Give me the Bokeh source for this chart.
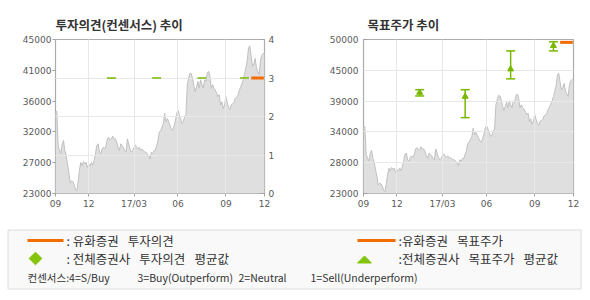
from math import pi
from bokeh.plotting import figure
from bokeh.models import Range1d, LinearAxis, FixedTicker
from bokeh.layouts import column, row
from bokeh.embed import file_html
from bokeh.resources import INLINE
from bokeh.core.properties import value

# ---------------- data ----------------
price = [
    34650, 34750, 29850, 29200, 28700, 30000, 30600, 29150, 28500, 27200,
    26000, 24500, 24800, 24700, 24300, 23600, 23350, 24700, 26300, 27450,
    26950, 27550, 27200, 27450, 26700, 27200, 26950, 27450, 27050, 27700,
    28650, 29850, 30100, 28900, 28650, 29350, 29600, 29350, 29850, 30800,
    31050, 30600, 30800, 31200, 30800, 30800, 30350, 29600, 29150, 30100,
    29850, 29600, 29150,
    28900, 30800, 30100, 29350, 28900, 29150, 29600, 29950, 29600, 29350,
    29600, 29150, 29350, 29150, 28900, 28900, 28650, 28400, 27900, 28900,
    28650, 29150, 29150, 29850, 30600, 31800, 32000, 32500, 33000, 34450,
    33250, 33700, 33250, 32750, 32250, 32000, 32600, 33350, 34450, 34900,
    34300, 33700, 33000, 33250, 33950, 34300, 38550, 39500, 40200, 40100,
    39400, 38300,
    37550, 38300, 39000, 38050, 39250, 38550, 38050, 39250, 39000, 40200,
    40450, 39750, 38050, 38550, 38050, 37800, 37350, 36850, 37100, 35650,
    36100, 35150, 35650, 36850, 36000, 35300, 35000, 35650, 35800, 36000,
    36600, 36750, 37000, 37700, 38200, 38650, 39250, 40000, 40950, 41900,
    43800, 44100, 42500, 41200, 41500, 42300, 40950, 40450, 40000, 42100,
    42750, 43000, 43100,
]
idx = list(range(len(price)))

x_ticks = [0, 25, 59, 92, 128, 157]
x_labels = ["09", "12", "17/03", "06", "09", "12"]

op_y_ticks = [23000, 27400, 31800, 36200, 40600, 45000]
op_y_labels = ["23000", "27000", "32000", "36000", "41000", "45000"]
opinion_ticks = [0, 1, 2, 3, 4]

tp_y_ticks = [23000, 28400, 33800, 39200, 44600, 50000]
tp_y_labels = ["23000", "28000", "34000", "39000", "45000", "50000"]

cons_idx = [42, 76, 110, 142]
cons_opinion = [3, 3, 3, 3]
tp_high = [41200, 41200, 48000, 49600]
tp_low = [40100, 36300, 43100, 48000]
tp_avg = [40700, 40000, 44800, 48900]

our_idx = [147, 156.5]
our_opinion = [3, 3]
our_target = [49500, 49500]

titles = ["투자의견(컨센서스) 추이", "목표주가 추이"]
SP = "\u2002 "
legend_labels = [": 유화증권" + SP + "투자의견",
                 ": 전체증권사" + SP + "투자의견" + SP + "평균값",
                 ":유화증권" + SP + "목표주가",
                 ":전체증권사" + SP + "목표주가" + SP + "평균값"]
note_parts = ["컨센서스:4=S/Buy", "3=Buy(Outperform)", "2=Neutral", "1=Sell(Underperform)"]

# ---------------- style ----------------
ORANGE = "#f26d00"
GREEN = "#78b800"
AREA = "#dfdfdf"
AREA_LINE = "#c0c0c0"
GRID = "#e8e8e8"
LABEL = "#5a5a5a"
KFONT = "Noto Sans CJK KR"
NFONT = "DejaVu Sans"


def style_axis(ax, tin, tout, standoff):
    ax.axis_line_color = None
    ax.major_tick_line_color = "#a0a0a0"
    ax.major_tick_in = tin
    ax.major_tick_out = tout
    ax.minor_tick_line_color = None
    ax.major_label_text_font = NFONT
    ax.major_label_text_font_size = "9px"
    ax.major_label_text_color = LABEL
    ax.major_label_standoff = standoff


def make_chart(width, left, right, y0, y1, title, title_offset):
    p = figure(width=width, height=215, x_range=Range1d(0, 157), y_range=Range1d(y0, y1),
               output_backend="svg", toolbar_location=None,
               min_border_left=left, min_border_right=right,
               min_border_top=39, min_border_bottom=22,
               background_fill_color="white", border_fill_color="white",
               outline_line_color="#acacac", outline_line_width=1.2,
               title=title)
    p.title.align = "left"
    p.title.text_font = KFONT
    p.title.text_font_size = "12.5px"
    p.title.text_font_style = "bold"
    p.title.text_color = "#333333"
    p.title.standoff = 12
    p.title.offset = title_offset
    p.xaxis.ticker = FixedTicker(ticks=x_ticks)
    p.xaxis.major_label_overrides = {t: l for t, l in zip(x_ticks, x_labels)}
    style_axis(p.xaxis[0], 0, 3, 2)
    p.grid.grid_line_color = GRID
    p.grid.level = "guide"
    p.varea(x=idx, y1=[y0] * len(idx), y2=price, fill_color=AREA)
    p.line(x=idx, y=price, line_color=AREA_LINE, line_width=1)
    return p


# ---------- left chart: 투자의견 ----------
p1 = make_chart(295, 55, 31, 23000, 45000, titles[0], 0)
p1.yaxis.ticker = FixedTicker(ticks=op_y_ticks)
p1.yaxis.major_label_overrides = {t: l for t, l in zip(op_y_ticks, op_y_labels)}
style_axis(p1.yaxis[0], 0, 3, 1)
p1.extra_y_ranges = {"op": Range1d(0, 4)}
rax = LinearAxis(y_range_name="op", ticker=FixedTicker(ticks=opinion_ticks))
style_axis(rax, 4, 0, 4)
p1.add_layout(rax, "right")
p1.ygrid.y_range_name = "op"
p1.ygrid.ticker = FixedTicker(ticks=[1, 2, 3])
r = p1.scatter(x=cons_idx, y=cons_opinion, marker="dash", size=9, line_color=GREEN,
               line_width=1.5, y_range_name="op")
r.level = "annotation"
r = p1.line(x=our_idx, y=our_opinion, line_color=ORANGE, line_width=3, y_range_name="op")
r.level = "annotation"

# ---------- right chart: 목표주가 ----------
p2 = make_chart(295, 68, 17, 23000, 50000, titles[1], 4)
p2.yaxis.ticker = FixedTicker(ticks=tp_y_ticks)
p2.yaxis.major_label_overrides = {t: l for t, l in zip(tp_y_ticks, tp_y_labels)}
style_axis(p2.yaxis[0], 4, 0, 5)
r = p2.segment(x0=cons_idx, y0=tp_low, x1=cons_idx, y1=tp_high, line_color=GREEN, line_width=1.5)
r.level = "annotation"
for ys in (tp_high, tp_low):
    r = p2.scatter(x=cons_idx, y=ys, marker="dash", size=9, line_color=GREEN, line_width=1.5)
    r.level = "annotation"
r = p2.scatter(x=cons_idx, y=tp_avg, marker="triangle", size=6, fill_color=GREEN, line_color=GREEN)
r.level = "annotation"
r = p2.line(x=our_idx, y=our_target, line_color=ORANGE, line_width=3)
r.level = "annotation"

# ---------- legend ----------
lg = figure(width=590, height=85, x_range=Range1d(0, 590), y_range=Range1d(85, 0),
            output_backend="svg", toolbar_location=None, min_border=0,
            x_axis_location=None, y_axis_location=None, outline_line_color=None,
            background_fill_color="white", border_fill_color="white")
lg.grid.visible = False
lg.quad(left=7.5, right=580.5, top=14.5, bottom=73.5, fill_color="#f9f9f9", line_color="#dcdcdc")
lg.segment(x0=[27, 357], y0=[25, 25], x1=[63, 395], y1=[25, 25], line_color=ORANGE, line_width=3)
lg.scatter(x=[35], y=[43], marker="square", size=9, angle=pi / 4, fill_color="#84c40c", line_color="#84c40c")
lg.patch(x=[357, 371, 364], y=[47.5, 47.5, 40.5], fill_color="#84c40c", line_color="#84c40c")
lg.text(x=[66, 66, 398, 398], y=[25, 43, 25, 43], text=legend_labels,
        text_font=value(KFONT), text_font_size=value("12.5px"), text_color="#333333",
        text_baseline="middle")
lg.text(x=[27, 137, 238, 310], y=[62] * 4, text=note_parts,
        text_font=value(KFONT), text_font_size=value("10.5px"), text_color="#333333",
        text_baseline="middle")

layout = column(row(p1, p2), lg)
open("out.html", "w").write(file_html(layout, INLINE))
